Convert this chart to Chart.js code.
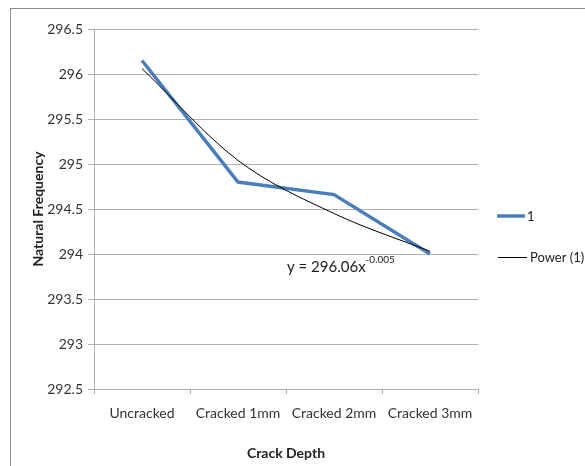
<!DOCTYPE html>
<html>
<head>
<meta charset="utf-8">
<script src="https://cdn.jsdelivr.net/npm/chart.js@4"></script>
<style>
  html, body { margin: 0; padding: 0; background: #fff; }
  #wrap { position: relative; width: 585px; height: 466px; overflow: hidden; }
  #frame { position: absolute; left: 10px; top: 8px; width: 600px; height: 500px;
           border: 1px solid #8c8c8c; box-sizing: border-box; }
  #c { position: absolute; left: 0; top: 0; }
</style>
</head>
<body>
<div id="wrap">
  <div id="frame"></div>
  <canvas id="c" width="585" height="466"></canvas>
</div>
<script>
// ── data ────────────────────────────────────────────────────────────────────
const categories = ['Uncracked', 'Cracked 1mm', 'Cracked 2mm', 'Cracked 3mm'];
const seriesValues = [296.15, 294.8, 294.66, 294.0];
// power trendline
const trendValues = [296.06, 295.04, 294.45, 294.03];
const yTicks = [292.5, 293, 293.5, 294, 294.5, 295, 295.5, 296, 296.5];
const equationText = 'y = 296.06x';
const equationExp = '-0.005';

const FONT = "Lato, 'Open Sans', sans-serif";
const BLUE = '#4a7ebb';

// ── legend + equation, drawn on the canvas ─────────────────────────────────
const extras = {
  id: 'extras',
  afterDraw(chart) {
    const ctx = chart.ctx;
    const ds = chart.data.datasets;
    ctx.save();
    // legend
    ctx.textBaseline = 'middle';
    ctx.font = '13px ' + FONT;
    ctx.fillStyle = '#222';
    ctx.strokeStyle = BLUE; ctx.lineWidth = 3.5;
    ctx.beginPath(); ctx.moveTo(497, 216); ctx.lineTo(525, 216); ctx.stroke();
    ctx.fillText(ds[0].label, 527, 217);
    ctx.strokeStyle = '#000'; ctx.lineWidth = 1;
    ctx.beginPath(); ctx.moveTo(498, 257.5); ctx.lineTo(527, 257.5); ctx.stroke();
    ctx.fillText(ds[1].label, 530, 258);
    // equation
    ctx.textBaseline = 'alphabetic';
    ctx.font = '15px ' + FONT;
    ctx.fillText(equationText, 287, 272);
    const w = ctx.measureText(equationText).width;
    ctx.font = '10px ' + FONT;
    ctx.fillText(equationExp, 287 + w, 263);
    ctx.restore();
  }
};

new Chart(document.getElementById('c').getContext('2d'), {
  type: 'line',
  data: {
    labels: categories,
    datasets: [
      {
        label: '1',
        data: seriesValues,
        borderColor: BLUE,
        borderWidth: 3.5,
        pointRadius: 0,
        tension: 0,
        order: 2,
      },
      {
        label: 'Power (1)',
        data: trendValues,
        borderColor: '#000',
        borderWidth: 1,
        pointRadius: 0,
        cubicInterpolationMode: 'monotone',
        order: 1,
      },
    ],
  },
  options: {
    responsive: false,
    animation: false,
    layout: { padding: { left: 0, right: 107, top: 29, bottom: 0 } },
    plugins: { legend: { display: false }, tooltip: { enabled: false } },
    scales: {
      x: {
        offset: true,
        grid: { display: true, drawOnChartArea: false, offset: true, tickLength: 5, color: '#b0b0b0' },
        border: { color: '#b0b0b0' },
        ticks: { color: '#333', font: { family: FONT, size: 14 }, padding: 11, maxRotation: 0 },
        title: { display: true, text: 'Crack Depth', color: '#222',
                 font: { family: FONT, size: 14, weight: 'bold' }, padding: { top: 20 } },
        afterFit(s) { s.height = 77; },
      },
      y: {
        min: 292.5, max: 296.5,
        afterBuildTicks(s) { s.ticks = yTicks.map(v => ({ value: v })); },
        grid: { color: '#b0b0b0', tickLength: 6 },
        border: { color: '#b0b0b0' },
        ticks: { color: '#333', font: { family: FONT, size: 14 }, padding: 5,
                 callback: v => String(v) },
        title: { display: true, text: 'Natural Frequency', color: '#222',
                 font: { family: FONT, size: 14, weight: 'bold' }, padding: { top: 30 } },
        afterFit(s) { s.width = 94; },
      },
    },
  },
  plugins: [extras],
});
</script>
</body>
</html>
